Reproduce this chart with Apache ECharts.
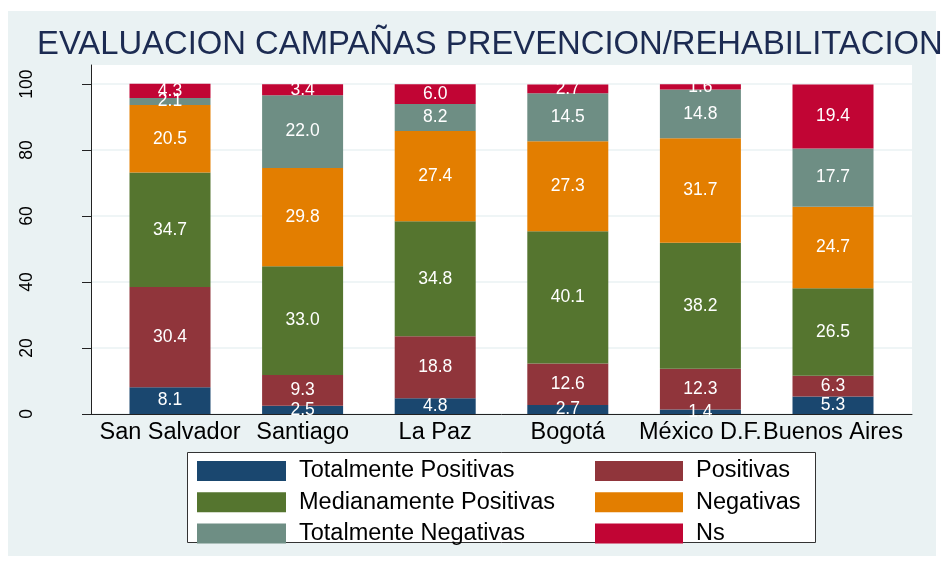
<!DOCTYPE html>
<html>
<head>
<meta charset="utf-8">
<title>Evaluacion campañas</title>
<script src="https://cdn.jsdelivr.net/npm/echarts@6/dist/echarts.min.js"></script>
<style>
  html, body { margin: 0; padding: 0; background: #ffffff; }
  #chart { width: 946px; height: 561px; }
</style>
</head>
<body>
<div id="chart"></div>
<script>
// datos por ciudad (porcentajes)
const categories = ['San Salvador', 'Santiago', 'La Paz', 'Bogotá', 'México D.F.', 'Buenos Aires'];
const totalmentePositivas = [8.1, 2.5, 4.8, 2.7, 1.4, 5.3];
const positivas = [30.4, 9.3, 18.8, 12.6, 12.3, 6.3];
const medianamentePositivas = [34.7, 33.0, 34.8, 40.1, 38.2, 26.5];
const negativas = [20.5, 29.8, 27.4, 27.3, 31.7, 24.7];
const totalmenteNegativas = [2.1, 22.0, 8.2, 14.5, 14.8, 17.7];
const ns = [4.3, 3.4, 6.0, 2.7, 1.6, 19.4];
const yTicks = [0, 20, 40, 60, 80, 100];

const FONT = '"Liberation Sans", Arial, Helvetica, sans-serif';
const Y_MAX = 105.8; // el area del grafico sube un poco por encima de 100

const chart = echarts.init(document.getElementById('chart'));

function barSerie(name, data, color) {
    return {
        name: name,
        type: 'bar',
        stack: 'total',
        xAxisIndex: 1,
        yAxisIndex: 1,
        barWidth: 81,
        data: data,
        itemStyle: { color: color },
        label: {
            show: true,
            position: 'inside',
            color: '#ffffff',
            fontSize: 17.5,
            fontFamily: FONT,
            formatter: p => p.value.toFixed(1)
        },
        emphasis: { disabled: true }
    };
}

const legendText = {
    color: '#000000',
    fontSize: 23.5,
    fontFamily: FONT,
    padding: [0, 0, 0, 8]
};

chart.setOption({
    backgroundColor: '#ffffff',
    animation: false,
    title: {
        text: 'EVALUACION CAMPAÑAS PREVENCION/REHABILITACION',
        left: 37,
        top: 28,
        padding: 0,
        textStyle: { color: '#1c2b52', fontSize: 32.8, fontWeight: 'normal', fontFamily: FONT }
    },
    graphic: [
        { // fondo gris azulado
            type: 'rect', z: -10, silent: true,
            shape: { x: 8, y: 11, width: 928, height: 545 },
            style: { fill: '#eaf2f3' }
        },
        { // caja de la leyenda
            type: 'rect', z: -5, silent: true,
            shape: { x: 187.5, y: 452.5, width: 628, height: 90 },
            style: { fill: '#ffffff', stroke: '#333333', lineWidth: 1 }
        }
    ],
    grid: [
        { left: 91, right: 34, top: 65, bottom: 147, show: true, backgroundColor: '#ffffff', borderWidth: 0 },
        { left: 103.7, right: 46.7, top: 65, bottom: 147 }
    ],
    xAxis: [
        {
            gridIndex: 0, type: 'value', min: 0, max: 1,
            axisLine: { show: true, onZero: false, lineStyle: { color: '#222222', width: 1 } },
            axisTick: { show: false }, axisLabel: { show: false }, splitLine: { show: false }
        },
        {
            gridIndex: 1, type: 'category', data: categories,
            axisLine: { show: false }, axisTick: { show: false },
            axisLabel: { interval: 0, margin: 7, color: '#000000', fontSize: 23.5, fontFamily: FONT }
        }
    ],
    yAxis: [
        {
            gridIndex: 0, type: 'value', min: 0, max: Y_MAX,
            axisLine: { show: true, onZero: false, lineStyle: { color: '#222222', width: 1 } },
            axisTick: { show: true, length: 9, customValues: yTicks, lineStyle: { color: '#222222' } },
            axisLabel: { customValues: yTicks, rotate: 90, margin: 55, color: '#000000', fontSize: 17.5, fontFamily: FONT },
            splitLine: { show: true, lineStyle: { color: '#eaf2f3', width: 1.5 } }
        },
        {
            gridIndex: 1, type: 'value', min: 0, max: Y_MAX, show: false
        }
    ],
    legend: [
        {
            data: ['Totalmente Positivas', 'Medianamente Positivas', 'Totalmente Negativas'],
            orient: 'vertical', left: 197, top: 459, padding: 0,
            itemWidth: 89, itemHeight: 20, itemGap: 7.3, icon: 'rect',
            selectedMode: false, textStyle: legendText
        },
        {
            data: ['Positivas', 'Negativas', 'Ns'],
            orient: 'vertical', left: 595, top: 459, padding: 0,
            itemWidth: 88, itemHeight: 20, itemGap: 7.3, icon: 'rect',
            selectedMode: false, textStyle: legendText
        }
    ],
    series: [
        barSerie('Totalmente Positivas', totalmentePositivas, '#1a476f'),
        barSerie('Positivas', positivas, '#90353b'),
        barSerie('Medianamente Positivas', medianamentePositivas, '#55752f'),
        barSerie('Negativas', negativas, '#e37e00'),
        barSerie('Totalmente Negativas', totalmenteNegativas, '#6e8e84'),
        barSerie('Ns', ns, '#c10534')
    ]
});
</script>
</body>
</html>
